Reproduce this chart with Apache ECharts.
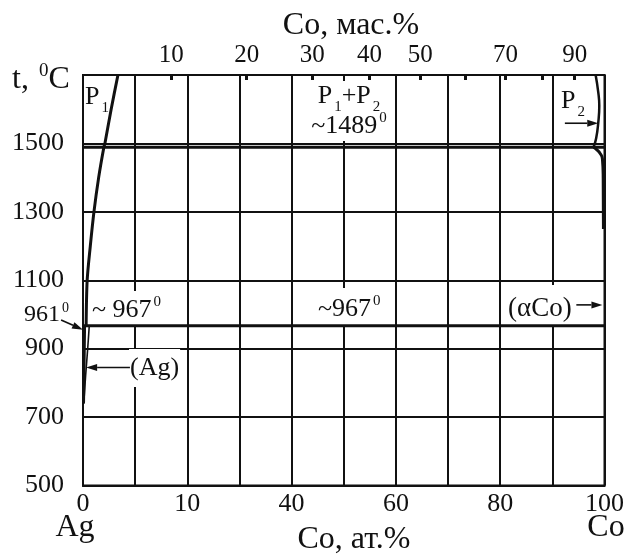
<!DOCTYPE html>
<html>
<head>
<meta charset="utf-8">
<script src="https://cdn.jsdelivr.net/npm/echarts@6/dist/echarts.min.js"></script>
<style>
  html, body { margin: 0; padding: 0; background: #fff; }
  #chart { width: 627px; height: 557px; }
</style>
</head>
<body>
<div id="chart"></div>
<script>
// Ag–Co phase diagram: temperature vs cobalt content (at.% below, wt.% above)
const atTickValues = [0, 20, 40, 60, 80, 100];
const atTickLabels = ['0', '10', '40', '60', '80', '100'];
const wtTicks = [10, 20, 30, 40, 50, 60, 70, 80, 90];
const wtLabels = [10, 20, 30, 40, 50, 70, 90];
const tempTicks = [500, 700, 900, 1100, 1300, 1500];

// phase boundaries, [at.% Co, °C]
const liquidusAg = [[6.7, 1700], [5.4, 1600], [4.2, 1500], [4.0, 1489], [3.0, 1400], [2.1, 1300], [1.4, 1200], [0.8, 1100], [0.6, 967]];
const liquidusCo = [[98.3, 1700], [98.8, 1650], [99.0, 1610], [98.8, 1560], [98.4, 1515], [97.9, 1489]];
const solvusCo = [[97.9, 1489], [98.5, 1482], [99.2, 1470], [99.6, 1455], [99.75, 1400], [99.8, 1250]];
const solvusAg = [[1.2, 967], [0.9, 900], [0.5, 820], [0.15, 740]];
const solidusAg = [[0.3, 967], [0.2, 850], [0.1, 740]];
const monotectic = [[0, 1489], [100, 1489]];
const eutectic = [[0, 967], [100, 967]];

// atomic masses for converting wt.% to at.%
const M_AG = 107.87, M_CO = 58.93;
function wtToAt(w) {
  const c = w / M_CO, a = (100 - w) / M_AG;
  return 100 * c / (c + a);
}

const FONT = 'Liberation Serif';
const INK = '#111';

const chart = echarts.init(document.getElementById('chart'), null, { renderer: 'canvas' });

function boundary(data, width, smooth) {
  return {
    type: 'line', data: data, symbol: 'none', smooth: smooth || false,
    lineStyle: { color: INK, width: width }, silent: true, z: 30
  };
}

chart.setOption({
  animation: false,
  backgroundColor: '#fff',
  grid: { left: 83, right: 20, top: 75, bottom: 71.5, containLabel: false,
          show: true, borderColor: INK, borderWidth: 2 },
  xAxis: [
    {
      type: 'value', min: 0, max: 100, interval: 10, position: 'bottom',
      axisLine: { show: true, lineStyle: { color: INK, width: 2 } },
      axisTick: { show: false },
      splitLine: { show: true, lineStyle: { color: INK, width: 2 } },
      axisLabel: {
        customValues: atTickValues, margin: 6,
        fontFamily: FONT, fontSize: 26, color: INK,
        formatter: v => atTickLabels[atTickValues.indexOf(v)]
      }
    },
    {
      type: 'value', min: 0, max: 100, position: 'top',
      axisLine: { show: true, lineStyle: { color: INK, width: 2 } },
      axisTick: {
        show: true, inside: true, length: 5, customValues: wtTicks.map(wtToAt),
        lineStyle: { color: INK, width: 3 }
      },
      splitLine: { show: false },
      axisLabel: {
        customValues: wtLabels.map(wtToAt), margin: 7,
        fontFamily: FONT, fontSize: 25, color: INK,
        formatter: v => {
          const w = wtLabels.find(x => Math.abs(wtToAt(x) - v) < 1e-6);
          return w === undefined ? '' : String(w);
        }
      }
    }
  ],
  yAxis: [
    {
      type: 'value', min: 500, max: 1700, interval: 200, position: 'left',
      axisLine: { show: true, lineStyle: { color: INK, width: 2 } },
      axisTick: { show: false },
      splitLine: { show: true, lineStyle: { color: INK, width: 2 } },
      axisLabel: {
        customValues: tempTicks, margin: 19,
        fontFamily: FONT, fontSize: 26, color: INK,
        formatter: v => String(v)
      }
    },
    {
      type: 'value', min: 500, max: 1700, position: 'right',
      axisLine: { show: true, lineStyle: { color: INK, width: 2 } },
      axisTick: { show: false }, axisLabel: { show: false }, splitLine: { show: false }
    }
  ],
  series: [
    boundary(monotectic, 3),
    boundary(eutectic, 3),
    boundary(liquidusAg, 3, 0.3),
    boundary(liquidusCo, 2.5, 0.5),
    boundary(solvusCo, 3, 0.5),
    boundary(solvusAg, 1.6, 0.3),
    boundary(solidusAg, 3, 0.3)
  ]
});

const toPx = p => chart.convertToPixel({ xAxisIndex: 0, yAxisIndex: 0 }, p);

function richSet(size) {
  const sup = Math.round(size * 0.58);
  const lh = Math.round(size * 1.15);
  return {
    n: { fontFamily: FONT, fontSize: size, color: INK, lineHeight: lh },
    sup: { fontFamily: FONT, fontSize: sup, color: INK, lineHeight: lh, verticalAlign: 'top', padding: [0, 0, 0, 2] },
    sub: { fontFamily: FONT, fontSize: sup, color: INK, lineHeight: lh, verticalAlign: 'bottom', padding: [0, 0, -4, 2] }
  };
}

function label(text, x, y, opts, size) {
  opts = opts || {};
  size = size || 26;
  return {
    type: 'text', x: x, y: y, z: 20, silent: true,
    style: Object.assign({
      text: text, rich: richSet(size), align: 'left', verticalAlign: 'middle',
      fontFamily: FONT, fontSize: size, fill: INK
    }, opts)
  };
}

function arrow(from, to) {
  const a = toPx(from), b = toPx(to);
  const ang = Math.atan2(b[1] - a[1], b[0] - a[0]);
  const L = 11, W = 3.5;
  const bx = b[0] - L * Math.cos(ang), by = b[1] - L * Math.sin(ang);
  const nx = -Math.sin(ang) * W, ny = Math.cos(ang) * W;
  return [
    { type: 'line', z: 31, silent: true,
      shape: { x1: a[0], y1: a[1], x2: bx, y2: by },
      style: { stroke: INK, lineWidth: 1.6 } },
    { type: 'polygon', z: 31, silent: true,
      shape: { points: [[b[0], b[1]], [bx + nx, by + ny], [bx - nx, by - ny]] },
      style: { fill: INK } }
  ];
}

const white = { backgroundColor: '#fff' };

chart.setOption({
  graphic: [
    label('{n|t, }{sup|0}{n|C}', 12, 80, {}, 32),
    label('{n|Co, мас.%}', 351, 26, { align: 'center' }, 32),
    label('{n|Ag}', 75, 528, { align: 'center' }, 32),
    label('{n|Co}', 606, 528, { align: 'center' }, 32),
    label('{n|Co, ат.%}', 354, 540, { align: 'center' }, 32),
    label('{n|961}{sup|0}', 24, 315, {}, 24),
    label('{n|~ 967}{sup|0}', 91, 309, Object.assign({ padding: [4, 2, 2, 1] }, white)),
    label('{n|~967}{sup|0}', 317, 307, Object.assign({ padding: [6, 2, 2, 1] }, white)),
    label('{n|(αCo)}', 507, 306, Object.assign({ padding: [8, 1, 3, 1] }, white), 27),
    label('{n|(Ag)}', 129, 368, Object.assign({ padding: [4, 1, 4, 1] }, white)),
    label('{n|P}{sub|1}{n|+P}{sub|2}\n{n|~1489}{sup|0}', 349, 111,
          Object.assign({ align: 'center', padding: [0, 4, 0, 4] }, white)),
    label('{n|P}{sub|1}', 85, 97),
    label('{n|P}{sub|2}', 561, 101)
  ].concat(
    arrow([-4.2, 984], [0, 955]),
    arrow([9.0, 845], [0.6, 845]),
    arrow([94.6, 1028], [99.6, 1028]),
    arrow([92.4, 1559], [98.8, 1559])
  )
});
</script>
</body>
</html>
